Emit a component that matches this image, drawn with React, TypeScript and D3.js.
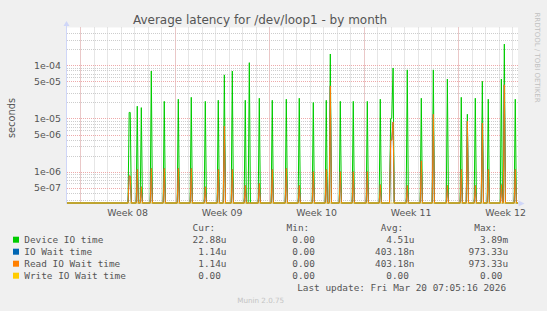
import React from "react";
import * as d3 from "d3";

const W = 547;
const H = 311;
const DAY = 86400000;
const WEEK08_START = Date.UTC(2026, 1, 16); // Monday, ISO week 08
const STEP_DAYS = 2 / 24; // 2-hour consolidation step of the monthly RRA

// Sample times, in days after Mon 16 Feb 2026 00:00 UTC
const sampleDays = [
  3.62, 3.7, 4.22, 4.52, 5.26, 6.22, 7.26, 8.22, 9.26, 10.22, 10.67, 11.26, 12.22, 12.52,
  13.26, 14.22, 15.26, 16.22, 17.26, 18.22, 18.52, 19.26, 20.22, 21.26, 22.22, 22.99, 23.07,
  23.17, 24.22, 25.26, 26.15, 27.19, 28.22, 28.67, 29.26, 29.78, 30.22, 31.19, 31.41, 32.22,
];
// seconds
const deviceIO = [
  1.3e-5, 1.3e-5, 1.7e-5, 1.6e-5, 7.8e-5, 2.1e-5, 2.3e-5, 2.5e-5, 2.1e-5, 2.2e-5, 6.6e-5, 7.8e-5,
  2.2e-5, 1.12e-4, 2.4e-5, 2.2e-5, 2.3e-5, 2.4e-5, 2.0e-5, 2.2e-5, 1.63e-4, 2.1e-5, 2.1e-5,
  2.1e-5, 2.3e-5, 1.0e-5, 1.0e-5, 8.9e-5, 8.2e-5, 2.4e-5, 8.2e-5, 5.5e-5, 2.5e-5, 1.2e-5,
  2.4e-5, 5.0e-5, 2.3e-5, 5.5e-5, 2.5e-4, 2.3e-5,
];
const ioWait = [
  8.3e-7, 8.3e-7, 1.1e-6, 5.2e-7, 1.15e-6, 1.15e-6, 1.15e-6, 1.15e-6, 5.2e-7, 1.1e-6, 7.2e-6,
  1.1e-6, 5.5e-7, 0, 6e-7, 1.1e-6, 1.15e-6, 5.5e-7, 1.0e-6, 1.1e-6, 4.1e-5, 1.0e-6, 1.0e-6,
  1.0e-6, 5.7e-7, 3.9e-6, 3.9e-6, 8.6e-6, 5.5e-7, 1.6e-6, 1.2e-5, 5.5e-7, 1.1e-6, 8.9e-6,
  5.5e-7, 8.2e-6, 1.1e-6, 5.7e-7, 4.3e-5, 1.1e-6,
];
const readWait = [
  8.3e-7, 8.3e-7, 1.1e-6, 5.2e-7, 1.15e-6, 1.15e-6, 1.15e-6, 1.15e-6, 5.2e-7, 1.1e-6, 7.2e-6,
  1.1e-6, 5.5e-7, 0, 6e-7, 1.1e-6, 1.15e-6, 5.5e-7, 1.0e-6, 1.1e-6, 4.1e-5, 1.0e-6, 1.0e-6,
  1.0e-6, 5.7e-7, 3.9e-6, 3.9e-6, 8.6e-6, 5.5e-7, 1.6e-6, 1.2e-5, 5.5e-7, 1.1e-6, 8.9e-6,
  5.5e-7, 8.2e-6, 1.1e-6, 5.7e-7, 4.3e-5, 1.1e-6,
];
const writeWait = [
  0, 0, 0, 0, 0, 0, 0, 0, 0, 0, 0, 0, 0, 0, 0, 0, 0, 0, 0, 0, 0, 0, 0, 0, 0, 0, 0, 0, 0, 0, 0,
  0, 0, 0, 0, 0, 0, 0, 0, 0,
];

const seriesNames = ["Device IO time", "IO Wait time", "Read IO Wait time", "Write IO Wait time"];
const seriesColors = ["#00cc00", "#0066b3", "#ff8000", "#ffcc00"];
const seriesValues = [deviceIO, ioWait, readWait, writeWait];
const curValues = ["22.88u", " 1.14u", " 1.14u", " 0.00"];
const minValues = [" 0.00", " 0.00", " 0.00", " 0.00"];
const avgValues = ["  4.51u", "403.18n", "403.18n", "  0.00"];
const maxValues = ["  3.89m", "973.33u", "973.33u", "  0.00"];
const yTickValues = [5e-7, 1e-6, 5e-6, 1e-5, 5e-5, 1e-4];

const PLOT_L = 67;
const PLOT_R = 518;
const PLOT_T = 27.5;
const PLOT_B = 203;

const x = d3
  .scaleUtc()
  .domain([new Date(WEEK08_START - 0.985 * DAY), new Date(WEEK08_START + 32.422 * DAY)])
  .range([PLOT_L, PLOT_R]);
const Y_MIN = 2.58e-7;
const Y_MAX = 5.13e-4;
const y = d3.scaleLog().domain([Y_MIN, Y_MAX]).range([PLOT_B, PLOT_T]).clamp(true);
const yv = (v: number) => y(Math.max(v, Y_MIN));

type Pt = { t: number; v: number };
function buildSeries(values: number[]): Pt[] {
  const [d0, d1] = x.domain().map((d) => d.getTime());
  const pts: Pt[] = [{ t: d0, v: 0 }];
  sampleDays.forEach((d, i) => {
    const prev = i > 0 ? sampleDays[i - 1] : -Infinity;
    const next = i < sampleDays.length - 1 ? sampleDays[i + 1] : Infinity;
    if (d - prev > STEP_DAYS * 1.5) pts.push({ t: WEEK08_START + (d - STEP_DAYS) * DAY, v: 0 });
    pts.push({ t: WEEK08_START + d * DAY, v: values[i] });
    if (next - d > STEP_DAYS * 1.5) pts.push({ t: WEEK08_START + (d + STEP_DAYS) * DAY, v: 0 });
  });
  pts.push({ t: d1, v: 0 });
  return pts;
}

const line = d3
  .line<Pt>()
  .x((d) => x(new Date(d.t)))
  .y((d) => yv(d.v));

function fmtExp(v: number) {
  const e = Math.floor(Math.log10(v) + 1e-9);
  const m = Math.round(v / Math.pow(10, e));
  const sign = e < 0 ? "-" : "+";
  return `${m}e${sign}${String(Math.abs(e)).padStart(2, "0")}`;
}

export default function App() {
  const [d0, d1] = x.domain();
  const days = d3.utcDay.range(d0, d1).filter((d) => x(d) > PLOT_L + 1);
  const mondays = d3.utcMonday.range(d0, d1).filter((d) => x(d) > PLOT_L + 1);
  const weekLabels = d3.utcMonday.range(d3.utcMonday.floor(d0), d1).map((d) => ({
    pos: new Date(d.getTime() + 3.5 * DAY),
    text: "Week " + d3.utcFormat("%V")(d),
  })).filter((w) => x(w.pos) > PLOT_L && x(w.pos) < PLOT_R);

  const minor: number[] = [];
  for (let e = -7; e <= -3; e++) {
    for (const m of [2, 3, 4, 6, 7, 8, 9]) {
      const v = m * Math.pow(10, e);
      if (v > Y_MIN && v < Y_MAX && y(v) > PLOT_T + 1) minor.push(v);
    }
  }

  const gridGray = "#cdcdcd";
  const gridRed = "#eeaaaa";
  const font = "'DejaVu Sans', sans-serif";
  const mono = "'DejaVu Sans Mono', monospace";
  const txt = "#555555";
  const rowY = [243.1, 255.1, 267.1, 279.1];

  return (
    <svg width={W} height={H} style={{ display: "block", position: "absolute", left: 0, top: 0 }}>
      <rect x={0} y={0} width={W} height={H} fill="#f0f0f0" />
      <rect x={PLOT_L} y={PLOT_T} width={PLOT_R - PLOT_L} height={PLOT_B - PLOT_T} fill="#ffffff" />

      {/* grid */}
      <g strokeWidth={1} strokeDasharray="1,1" fill="none">
        {minor.map((v) => (
          <line key={"hm" + v} x1={PLOT_L} x2={PLOT_R} y1={Math.round(y(v)) + 0.5} y2={Math.round(y(v)) + 0.5} stroke={gridGray} />
        ))}
        {days.map((d) => (
          <line key={"vd" + d.getTime()} x1={Math.round(x(d)) + 0.5} x2={Math.round(x(d)) + 0.5} y1={PLOT_T} y2={PLOT_B} stroke={gridGray} />
        ))}
        {yTickValues.map((v) => (
          <line key={"hM" + v} x1={PLOT_L} x2={PLOT_R} y1={Math.round(y(v)) + 0.5} y2={Math.round(y(v)) + 0.5} stroke={gridRed} />
        ))}
        {mondays.map((d) => (
          <line key={"vM" + d.getTime()} x1={Math.round(x(d)) + 0.5} x2={Math.round(x(d)) + 0.5} y1={PLOT_T} y2={PLOT_B} stroke={gridRed} />
        ))}
      </g>

      {/* axes */}
      <line x1={PLOT_L - 0.5} x2={PLOT_L - 0.5} y1={PLOT_B + 0.5} y2={22} stroke="#cfd6f8" strokeWidth={1} />
      <line x1={PLOT_L - 0.5} x2={PLOT_R + 2} y1={PLOT_B + 0.5} y2={PLOT_B + 0.5} stroke="#cfd6f8" strokeWidth={1} />
      <path d={`M${PLOT_L - 3.5},26 L${PLOT_L + 2.5},26 L${PLOT_L - 0.5},21 Z`} fill="#cfd6f8" />
      <path d={`M${PLOT_R + 0.5},200.5 L${PLOT_R + 0.5},206.5 L${PLOT_R + 6.5},203.5 Z`} fill="#cfd6f8" />

      {/* series */}
      <g fill="none" strokeWidth={1}>
        {seriesValues.map((vals, i) => (
          <path
            key={seriesNames[i]}
            d={line(buildSeries(vals)) || ""}
            stroke={seriesColors[i]}
            strokeOpacity={i === 3 ? 0.7 : 1}
          />
        ))}
      </g>

      {/* y ticks */}
      <g fontFamily={font} fontSize={9.4} fill={txt} textAnchor="end">
        {yTickValues.map((v) => (
          <text key={"yt" + v} x={61} y={y(v) + 3.4}>
            {fmtExp(v)}
          </text>
        ))}
      </g>
      {/* x labels */}
      <g fontFamily={font} fontSize={9.4} fill={txt} textAnchor="middle">
        {weekLabels.map((w) => (
          <text key={w.text} x={x(w.pos)} y={215.5}>
            {w.text}
          </text>
        ))}
      </g>

      <text x={12} y={118} transform="rotate(-90 12 118)" dy={3.4} textAnchor="middle" fontFamily={font} fontSize={9.8} fill={txt}>
        seconds
      </text>
      <text x={260} y={23.5} textAnchor="middle" fontFamily={font} fontSize={12} fill={txt}>
        Average latency for /dev/loop1 - by month
      </text>
      <text x={535} y={57.5} transform="rotate(90 535 57.5)" textAnchor="middle" fontFamily={font} fontSize={7} fill="#c0c0c0">
        RRDTOOL / TOBI OETIKER
      </text>

      {/* legend */}
      <g fontFamily={mono} fontSize={9.4} fill={txt} style={{ whiteSpace: "pre" }}>
        <text x={192.6} y={231.1}>Cur:</text>
        <text x={286.6} y={231.1}>Min:</text>
        <text x={380.7} y={231.1}>Avg:</text>
        <text x={474.3} y={231.1}>Max:</text>
        {seriesNames.map((n, i) => (
          <g key={"lg" + n}>
            <rect x={13} y={rowY[i] - 6.4} width={6} height={6} fill={seriesColors[i]} />
            <text x={24.3} y={rowY[i]}>{n}</text>
            <text x={192.6} y={rowY[i]} xmlSpace="preserve">{curValues[i]}</text>
            <text x={286.6} y={rowY[i]} xmlSpace="preserve">{minValues[i]}</text>
            <text x={375} y={rowY[i]} xmlSpace="preserve">{avgValues[i]}</text>
            <text x={468.6} y={rowY[i]} xmlSpace="preserve">{maxValues[i]}</text>
          </g>
        ))}
        <text x={297.2} y={291.1}>Last update: Fri Mar 20 07:05:16 2026</text>
      </g>
      <text x={260.7} y={302.6} textAnchor="middle" fontFamily={font} fontSize={7.2} fill="#c4c4c4">
        Munin 2.0.75
      </text>
    </svg>
  );
}
